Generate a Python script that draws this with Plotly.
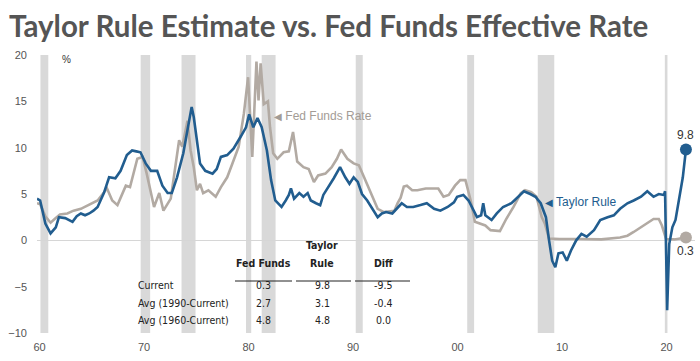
import plotly.graph_objects as go

# ---------------- data ----------------
taylor_t = [1960.0, 1960.3, 1960.8, 1961.3, 1961.8, 1962.1, 1962.7, 1963.4, 1963.8, 1964.2, 1964.6,
            1965.0, 1965.4, 1965.8, 1966.4, 1966.9, 1967.5, 1968.0, 1968.6, 1969.1, 1969.5, 1969.9,
            1970.4, 1970.9, 1971.5, 1972.0, 1972.5, 1972.9, 1973.4, 1974.0, 1974.4, 1974.8, 1975.0,
            1975.3, 1975.6, 1976.1, 1976.8, 1977.2, 1977.6, 1978.2, 1978.8, 1979.5, 1980.0, 1980.3,
            1980.7, 1981.1, 1981.5, 1982.0, 1982.4, 1982.8, 1983.1, 1983.4, 1983.8, 1984.1, 1984.3,
            1984.6, 1985.1, 1985.5, 1985.9, 1986.2, 1986.7, 1987.1, 1987.4, 1987.9, 1988.4, 1989.0,
            1989.5, 1989.9, 1990.3, 1990.7, 1991.1, 1991.6, 1992.1, 1992.6, 1993.0, 1993.4, 1994.0,
            1994.6, 1994.9, 1995.4, 1996.0, 1996.7,
            1997.3, 1998.0, 1998.6, 1999.3, 1999.9, 2000.2, 2000.8, 2001.3, 2001.8, 2002.1, 2002.5,
            2002.7, 2002.9, 2003.5, 2004.0, 2004.6, 2005.4, 2006.0, 2006.6, 2007.2, 2007.7, 2008.2,
            2008.7, 2009.0, 2009.3, 2009.6, 2009.9, 2010.3, 2010.7, 2011.1, 2011.6, 2012.1, 2012.6,
            2013.3, 2013.9, 2014.6, 2015.2, 2015.8, 2016.5, 2017.1, 2017.8, 2018.4, 2019.0, 2019.5,
            2020.0, 2020.1, 2020.3, 2020.5, 2020.8, 2021.1, 2021.4, 2021.8, 2022.1]
taylor_v = [4.5, 4.3, 1.8, 0.75, 1.4, 2.5, 2.4, 2.0, 2.6, 2.9, 2.7,
            2.9, 3.2, 3.6, 5.1, 6.8, 6.7, 7.5, 9.2, 9.7, 9.6, 9.5,
            8.3, 7.5, 7.5, 5.9, 5.1, 5.1, 6.8, 9.4, 11.9, 14.4, 13.3,
            10.8, 8.3, 7.5, 7.2, 7.7, 9.0, 9.2, 9.9, 11.2, 12.2, 13.6,
            12.2, 13.2, 12.2, 9.7, 6.5, 4.3, 4.0, 3.6, 4.3, 4.9, 5.6,
            4.5, 5.1, 4.7, 5.1, 4.3, 4.0, 3.8, 4.9, 5.75, 6.7, 7.9,
            6.8, 6.1, 6.8, 6.3, 5.0, 4.3, 3.4, 2.5, 2.9, 3.05, 2.9,
            3.6, 4.0, 3.6, 3.6, 3.8,
            4.0, 3.4, 3.2, 3.6, 4.1, 4.7, 4.9, 4.3, 3.2, 2.5, 2.7,
            4.0, 2.7, 2.2, 2.9, 3.6, 4.0, 4.6, 5.3, 5.0, 4.7, 4.0,
            2.5, 0.0, -2.2, -2.9, -1.4, -1.3, -2.2, -1.1, 0.0, 0.7, 0.4,
            1.1, 2.2, 2.5, 2.7, 3.4, 4.0, 4.3, 4.7, 5.3, 4.7, 5.0,
            4.9, 5.3, -7.55, -0.4, 1.4, 2.2, 4.3, 6.8, 9.8]

ff_t = [1960.0, 1960.3, 1960.8, 1961.3, 1961.8, 1962.2, 1962.9, 1963.5, 1964.2, 1965.1, 1965.8,
        1966.7, 1967.2, 1967.7, 1968.5, 1968.9, 1969.6, 1970.1, 1970.5, 1971.2, 1971.7, 1972.1,
        1972.8, 1973.6, 1973.9, 1974.4, 1974.7, 1975.0, 1975.3, 1975.6, 1975.9, 1976.4, 1977.1,
        1977.6, 1978.2, 1978.7, 1979.3, 1979.8, 1980.2, 1980.6, 1980.75, 1981.0, 1981.2, 1981.4,
        1981.7, 1982.1, 1982.3, 1982.6, 1983.0, 1983.6, 1984.1, 1984.5, 1984.9, 1985.5, 1986.0,
        1986.5, 1986.9, 1987.6, 1988.2, 1988.7, 1989.1, 1989.7, 1990.3, 1990.8, 1991.3, 1992.0,
        1992.6, 1993.2, 1994.2, 1994.5, 1994.8, 1995.1, 1995.4, 1995.9, 1996.4, 1997.2, 1998.4,
        1998.9, 1999.4, 2000.0, 2000.5, 2001.0, 2001.5, 2001.9, 2002.4, 2002.9, 2003.4, 2004.3,
        2004.9, 2005.6, 2006.3, 2006.7, 2007.3, 2007.8, 2008.3, 2008.6, 2009.0, 2010.0, 2012.0,
        2014.0, 2015.8, 2016.5, 2017.1, 2017.8, 2018.4, 2019.0, 2019.5, 2019.8, 2020.2, 2021.0,
        2022.1]
ff_v = [4.0, 3.9, 2.6, 1.9, 2.4, 2.8, 2.9, 3.2, 3.4, 3.9, 4.3,
        5.6, 4.3, 3.8, 5.9, 5.75, 8.8, 9.0, 7.2, 3.6, 5.1, 3.2,
        4.5, 10.8, 10.1, 12.9, 9.7, 7.9, 5.4, 6.1, 5.1, 5.4, 4.7,
        5.75, 6.8, 8.3, 10.1, 13.7, 17.6, 9.0, 13.3, 19.3, 15.1, 19.1,
        14.7, 15.0, 12.2, 9.4, 8.8, 9.5, 9.6, 11.7, 8.5, 7.9, 7.7,
        6.3, 7.0, 7.2, 7.9, 8.8, 9.8, 8.8, 8.3, 8.1, 6.8, 5.0,
        3.4, 3.05, 3.2, 4.0, 4.6, 5.8, 5.9, 5.4, 5.4, 5.6, 5.6,
        4.7, 4.9, 5.9, 6.5, 6.5, 4.3, 2.0, 1.8, 1.6, 1.1, 1.0,
        2.3, 3.6, 5.1, 5.4, 5.2, 4.7, 2.5, 1.8, 0.2, 0.15, 0.15,
        0.1, 0.3, 0.5, 0.9, 1.4, 1.9, 2.3, 2.3, 1.6, 0.15, 0.1,
        0.3]

recessions = [(1960.33, 1961.08), (1969.92, 1970.83), (1973.83, 1975.17), (1980.0, 1980.5),
              (1981.5, 1982.83), (1990.5, 1991.17), (2001.17, 2001.83), (2007.92, 2009.5),
              (2020.08, 2020.33)]

tick_years = [1960, 1970, 1980, 1990, 2000, 2010, 2020]
tick_labels = ["60", "70", "80", "90", "00", "10", "20"]

table_rows = ["Current", "Avg (1990-Current)", "Avg (1960-Current)"]
table_ff = ["0.3", "2.7", "4.8"]
table_tr = ["9.8", "3.1", "4.8"]
table_diff = ["-9.5", "-0.4", "0.0"]

# ---------------- layout helpers ----------------
W, H = 700, 361
L, R, T, B = 37, 5, 55, 28
PW, PH = W - L - R, H - T - B


def px(x):
    return (x - L) / PW


def py(y):
    return (T + PH - y) / PH


BLUE = "#215d8f"
GRAY = "#b2aaa3"
TXT = "#333333"

fig = go.Figure()

for a, b in recessions:
    fig.add_shape(type="rect", xref="x", yref="paper", x0=a, x1=b, y0=0, y1=1,
                  fillcolor="#d9d9d9", line_width=0, layer="below")

fig.add_trace(go.Scatter(x=ff_t, y=ff_v, mode="lines", line=dict(color=GRAY, width=2.6),
                         hoverinfo="skip", showlegend=False))
fig.add_trace(go.Scatter(x=taylor_t, y=taylor_v, mode="lines", line=dict(color=BLUE, width=2.6),
                         hoverinfo="skip", showlegend=False))
fig.add_trace(go.Scatter(x=[ff_t[-1]], y=[ff_v[-1]], mode="markers",
                         marker=dict(color=GRAY, size=12), hoverinfo="skip", showlegend=False))
fig.add_trace(go.Scatter(x=[taylor_t[-1]], y=[taylor_v[-1]], mode="markers",
                         marker=dict(color=BLUE, size=12), hoverinfo="skip", showlegend=False))

ann = []
ann.append(dict(x=taylor_t[-1], y=taylor_v[-1], xref="x", yref="y", text=f"{taylor_v[-1]:.1f}",
                showarrow=False, yshift=15, font=dict(size=12, color=TXT, family="Liberation Sans")))
ann.append(dict(x=ff_t[-1], y=ff_v[-1], xref="x", yref="y", text=f"{ff_v[-1]:.1f}",
                showarrow=False, yshift=-13, font=dict(size=12, color=TXT, family="Liberation Sans")))

# series labels
ann.append(dict(x=px(272), y=py(107), xref="paper", yref="paper", xanchor="left",
                text="<span style='font-size:10px'>◀</span> Fed Funds Rate", showarrow=False,
                font=dict(size=12, color="#a39c96", family="Liberation Sans")))
ann.append(dict(x=px(543), y=py(202), xref="paper", yref="paper", xanchor="left",
                text="<span style='font-size:10px'>◀</span> Taylor Rule", showarrow=False,
                font=dict(size=12, color=BLUE, family="Liberation Sans")))

# % label
ann.append(dict(x=px(60), y=py(52), xref="paper", yref="paper", text="%", showarrow=False,
                font=dict(size=10, color=TXT, family="Liberation Sans")))

# title
ann.append(dict(x=px(7), y=py(25), xref="paper", yref="paper", xanchor="left", yanchor="middle",
                text="<b>Taylor Rule Estimate vs. Fed Funds Effective Rate</b>", showarrow=False,
                font=dict(size=29.5, color="#555555", family="Lato")))

# table
TF = "DejaVu Sans Condensed"
TS = 10.5
col_x = [263, 322, 383]
ann.append(dict(x=px(col_x[0]), y=py(271), xref="paper", yref="paper", text="<b>Fed Funds</b>",
                showarrow=False, font=dict(size=TS, color="#222", family=TF)))
ann.append(dict(x=px(col_x[1]), y=py(253), xref="paper", yref="paper", text="<b>Taylor</b>",
                showarrow=False, font=dict(size=TS, color="#222", family=TF)))
ann.append(dict(x=px(col_x[1]), y=py(271), xref="paper", yref="paper", text="<b>Rule</b>",
                showarrow=False, font=dict(size=TS, color="#222", family=TF)))
ann.append(dict(x=px(col_x[2]), y=py(271), xref="paper", yref="paper", text="<b>Diff</b>",
                showarrow=False, font=dict(size=TS, color="#222", family=TF)))
for x0, x1 in [(235, 292), (296, 351), (355, 410)]:
    fig.add_shape(type="line", xref="paper", yref="paper", x0=px(x0), x1=px(x1), y0=py(281), y1=py(281),
                  line=dict(color="#222", width=1))
row_y = [293, 311, 328]
for i, lab in enumerate(table_rows):
    ann.append(dict(x=px(136), y=py(row_y[i]), xref="paper", yref="paper", xanchor="left", text=lab,
                    showarrow=False, font=dict(size=TS, color="#222", family=TF)))
    for cx, vals in zip(col_x, [table_ff, table_tr, table_diff]):
        ann.append(dict(x=px(cx), y=py(row_y[i]), xref="paper", yref="paper", text=vals[i],
                        showarrow=False, font=dict(size=TS, color="#222", family=TF)))

fig.update_layout(
    width=W, height=H, margin=dict(l=L, r=R, t=T, b=B),
    paper_bgcolor="white", plot_bgcolor="white",
    annotations=ann,
    xaxis=dict(range=[1960.0, 1960.0 + PW / 10.45], showgrid=False, zeroline=False, showline=False,
               tickvals=[y + 0.25 for y in tick_years], ticktext=tick_labels, ticks="",
               ticklabelstandoff=6, tickfont=dict(size=11, color="#555", family="Liberation Sans")),
    yaxis=dict(range=[-10, 20], tickvals=[-10, -5, 0, 5, 10, 15, 20], showgrid=False,
               zeroline=True, zerolinecolor="#d6d6d6", zerolinewidth=1, showline=False, ticks="",
               ticklabelstandoff=9, tickfont=dict(size=11, color="#555", family="Liberation Sans")),
)

fig.write_html("out.html", config={"displayModeBar": False},
               post_script="document.body.style.margin='0';")
